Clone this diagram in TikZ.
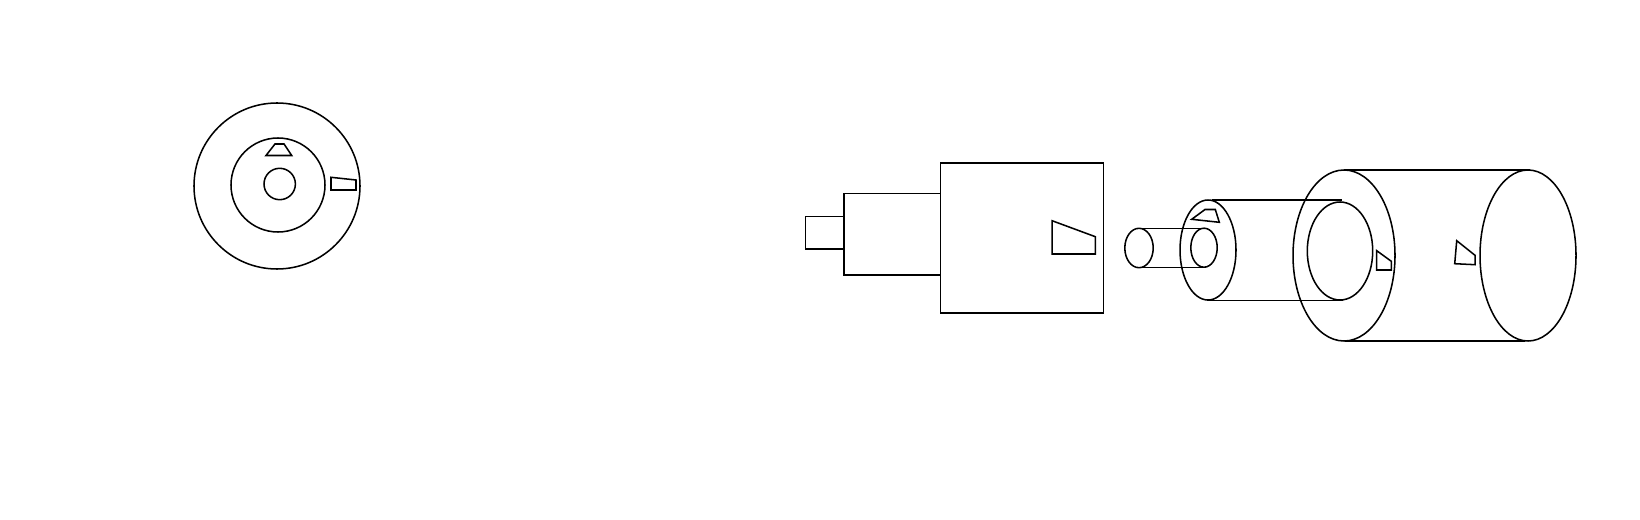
\documentclass[tikz,border=0pt]{standalone}
\tikzset{part/.style={draw=black,line width=1.15pt,line join=miter}}
\begin{document}
\begin{tikzpicture}[x=0.75pt,y=-0.75pt]
\useasboundingbox (0,0) rectangle (1640,520);
\fill[white] (0,0) rectangle (1640,520);
% end view
\draw[part] (277,186) circle[radius=83];
\draw[part] (278,185) circle[radius=47];
\draw[part] (279.7,184) circle[radius=15.7];
\draw[part] (266,155.5) -- (275,144) -- (284,144) -- (291.7,155.5) -- cycle;
\draw[part] (331,177.3) -- (356,180) -- (356,190) -- (331,190) -- cycle;
% side view
\draw[part] (844,216.7) -- (805.7,216.7) -- (805.7,249) -- (844,249);
\draw[part] (940.7,193.7) -- (844,193.7) -- (844,275) -- (940.7,275);
\draw[part] (940.7,163) rectangle (1103.3,313);
\draw[part] (1052,220.7) -- (1095.3,236.7) -- (1095.3,254) -- (1052,254) -- cycle;
% exploded view
\draw[part] (1139,248) ellipse[x radius=14.2,y radius=19.7];
\draw[part] (1204,247.7) ellipse[x radius=13.2,y radius=19.5];
\draw[part] (1139,228.3) -- (1206,228.3);
\draw[part] (1139,267.7) -- (1206,267.7);
\draw[part] (1208,250) ellipse[x radius=28,y radius=50];
\draw[part] (1212,200) -- (1342,200);
\draw[part] (1207,300.3) -- (1343,300.3);
\draw[part] (1340,251) ellipse[x radius=32.7,y radius=49];
\draw[part] (1344,255.5) ellipse[x radius=51,y radius=85.5];
\draw[part] (1528,255.5) ellipse[x radius=48,y radius=85.5];
\draw[part] (1344,170) -- (1530,170);
\draw[part] (1345,341) -- (1525,341);
\draw[part] (1191.7,219.3) -- (1205,209.5) -- (1215.3,209.5) -- (1219.3,222.3) -- cycle;
\draw[part] (1376.7,250.7) -- (1391.3,261.3) -- (1391.3,270) -- (1376.7,270) -- cycle;
\draw[part] (1456.7,240.7) -- (1475,255.3) -- (1475,264.7) -- (1454.7,263.7) -- cycle;
\end{tikzpicture}
\end{document}
